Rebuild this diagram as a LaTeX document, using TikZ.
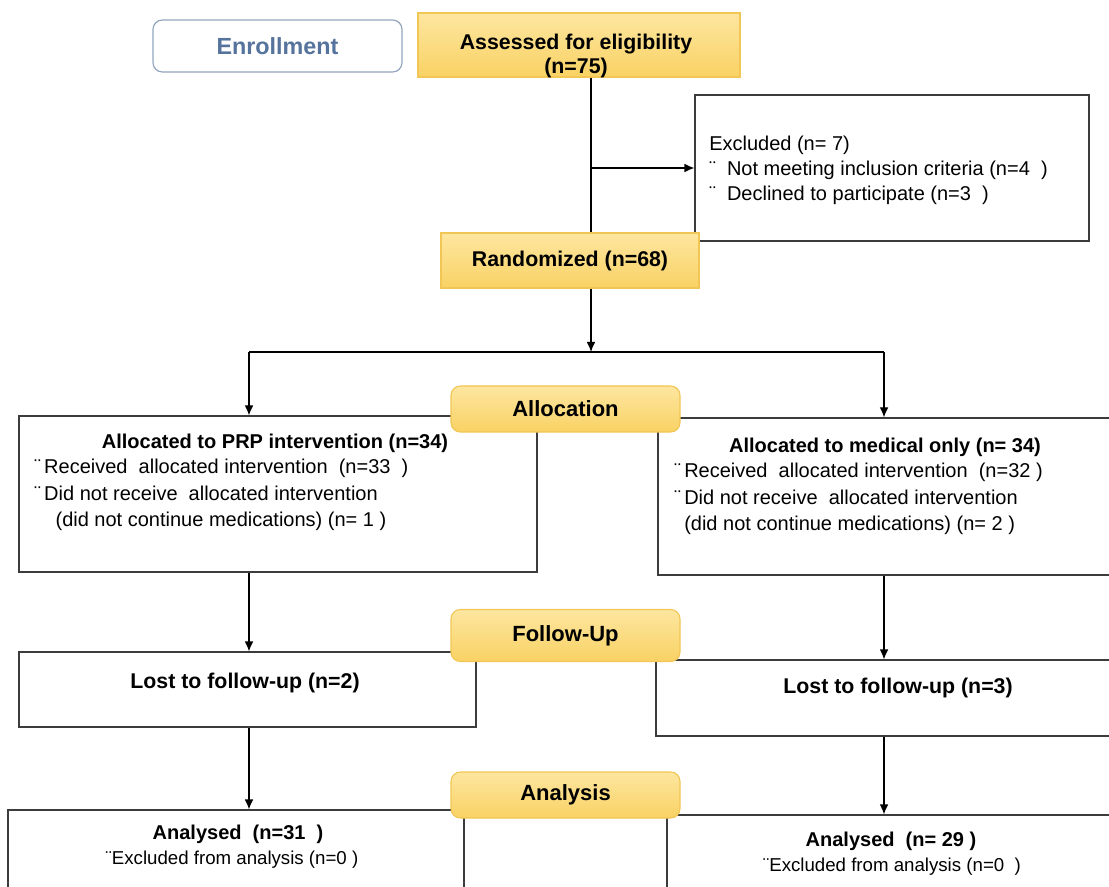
\documentclass[tikz,border=0pt]{standalone}
\usepackage{fontspec}
\setmainfont{Liberation Sans}
\usetikzlibrary{arrows.meta,calc}
\definecolor{BoxLine}{HTML}{3C3C3C}
\definecolor{LabelTop}{HTML}{FDE6A0}
\definecolor{LabelBottom}{HTML}{F9D264}
\definecolor{LabelLine}{HTML}{F1C654}
\definecolor{EnrollLine}{HTML}{93A6BE}
\definecolor{EnrollText}{HTML}{55739C}
\newcommand{\pxu}{0.75pt}
\tikzset{%
	% Style of the white boxes
	Box/.style={rectangle,draw=BoxLine,line width=0.9pt,fill=white,inner sep=0},
	% Style of the yellow boxes
	StepBox/.style={rectangle,draw=LabelLine,line width=0.8pt,top color=LabelTop,bottom color=LabelBottom,inner sep=0},
	% Style of the phase labels
	PhaseName/.style={StepBox,rounded corners=7pt,font=\fontsize{16.5}{20}\selectfont\bfseries},
	% Style of the enrollment label
	EnrollBox/.style={rectangle,rounded corners=7pt,draw=EnrollLine,line width=0.9pt,fill=white,text=EnrollText,font=\fontsize{17.5}{20}\selectfont\bfseries},
	% Style of the box titles
	TitleText/.style={font=\fontsize{15}{18}\selectfont\bfseries,inner sep=0},
	% Style of the box lines
	BodyText/.style={font=\fontsize{15}{20}\selectfont,align=left,inner sep=0},
	% Style of the connections
	Connection/.style={draw=black,line width=0.9pt},
	Arrow/.style={Connection,-{Latex[length=7.5pt,width=6.5pt]}},
}
\begin{document}
\begin{tikzpicture}[x=0.75pt,y=-0.75pt]
\useasboundingbox (0,0) rectangle (1109,887);
\clip (0,0) rectangle (1109,887);

%~~~~~~~~~~~~~~~~~~~~~~~~~~~~~~~~~~~~~~~~~~~~~~~~~~
% Set Boxes
%~~~~~~~~~~~~~~~~~~~~~~~~~~~~~~~~~~~~~~~~~~~~~~~~~~
\node[EnrollBox, minimum width=249*\pxu, minimum height=52*\pxu] (Enrollment) at (277.5, 46) {Enrollment};

\node[StepBox, minimum width=322*\pxu, minimum height=64*\pxu] (Assessed) at (579, 45) {};
\node[TitleText, font=\fontsize{16}{18}\selectfont\bfseries, align=center] (AssessedText) at ($ (Assessed) + (-3, 11) $) {Assessed for eligibility\\(n=75)};

\node[Box, minimum width=394*\pxu, minimum height=146*\pxu] (Excluded) at (892, 168) {};
\node[BodyText, font=\fontsize{15}{18.75}\selectfont, anchor=west] (ExcludedText) at (709, 170) {Excluded (n= 7)\\¨\ \ Not meeting inclusion criteria (n=4\ \ )\\¨\ \ Declined to participate (n=3\ \ )};

\node[StepBox, minimum width=258*\pxu, minimum height=55*\pxu, font=\fontsize{16}{18}\selectfont\bfseries] (Randomized) at (570, 260.5) {Randomized (n=68)};

\node[Box, minimum width=518*\pxu, minimum height=156*\pxu] (AllocPRP) at (278, 494) {};
\node[TitleText] (AllocPRPTitle) at (275, 443) {Allocated to PRP intervention (n=34)};
\node[BodyText, anchor=west] (AllocPRPText) at (34, 495) {¨\,Received\ \ allocated intervention\ \ (n=33\ \ )\\¨\,Did not receive\ \ allocated intervention\\\hspace*{16pt}(did not continue medications) (n= 1 )};

\node[Box, minimum width=457*\pxu, minimum height=157*\pxu] (AllocMed) at (886.5, 496.5) {};
\node[TitleText] (AllocMedTitle) at (885, 447) {Allocated to medical only (n= 34)};
\node[BodyText, anchor=west] (AllocMedText) at (674, 499) {¨\,Received\ \ allocated intervention\ \ (n=32 )\\¨\,Did not receive\ \ allocated intervention\\\hspace*{7.5pt}(did not continue medications) (n= 2 )};

\node[Box, minimum width=457*\pxu, minimum height=75*\pxu] (LostPRP) at (247.5, 689.5) {};
\node[TitleText, font=\fontsize{16}{18}\selectfont\bfseries] (LostPRPText) at (245, 683) {Lost to follow-up (n=2)};

\node[Box, minimum width=459*\pxu, minimum height=76*\pxu] (LostMed) at (885.5, 698) {};
\node[TitleText, font=\fontsize{16}{18}\selectfont\bfseries] (LostMedText) at (898, 688) {Lost to follow-up (n=3)};

\node[Box, minimum width=456*\pxu, minimum height=85*\pxu] (AnalysedPRP) at (236, 852.5) {};
\node[TitleText] (AnalysedPRPTitle) at (238, 834) {Analysed\ \ (n=31\ \ )};
\node[BodyText, font=\fontsize{14}{18}\selectfont] (AnalysedPRPText) at (232, 860) {¨Excluded from analysis (n=0 )};

\node[Box, minimum width=448*\pxu, minimum height=80*\pxu] (AnalysedMed) at (891, 855) {};
\node[TitleText] (AnalysedMedTitle) at (891, 841) {Analysed\ \ (n= 29 )};
\node[BodyText, font=\fontsize{14}{18}\selectfont] (AnalysedMedText) at (892, 867) {¨Excluded from analysis (n=0\ \ )};

%~~~~~~~~~~~~~~~~~~~~~~~~~~~~~~~~~~~~~~~~~~~~~~~~~~
% Set Branches
%~~~~~~~~~~~~~~~~~~~~~~~~~~~~~~~~~~~~~~~~~~~~~~~~~~
\coordinate (MainCol) at (591, 352);
\coordinate (LeftCol) at (249, 352);
\coordinate (RightCol) at (884, 352);

%Trunk from Assessed to Randomized
\draw[Connection] (Assessed.south -| MainCol) -- (Randomized.north -| MainCol);
\draw[Arrow] (MainCol |- Excluded.west) -- (Excluded.west);

%Split after Randomized
\draw[Arrow] (Randomized.south -| MainCol) -- (MainCol);
\draw[Connection] (LeftCol) -- (RightCol);
\draw[Arrow] (LeftCol) -- (LeftCol |- AllocPRP.north);
\draw[Arrow] (RightCol) -- (RightCol |- AllocMed.north);

%Left column
\draw[Arrow] (LeftCol |- AllocPRP.south) -- (LeftCol |- LostPRP.north);
\draw[Arrow] (LeftCol |- LostPRP.south) -- (LeftCol |- AnalysedPRP.north);

%Right column
\draw[Arrow] (RightCol |- AllocMed.south) -- (RightCol |- LostMed.north);
\draw[Arrow] (RightCol |- LostMed.south) -- (RightCol |- AnalysedMed.north);

%~~~~~~~~~~~~~~~~~~~~~~~~~~~~~~~~~~~~~~~~~~~~~~~~~~
% Set Phase Labels
%~~~~~~~~~~~~~~~~~~~~~~~~~~~~~~~~~~~~~~~~~~~~~~~~~~
\node[PhaseName, minimum width=229*\pxu, minimum height=46*\pxu] (Allocation) at (565.5, 409) {Allocation};
\node[PhaseName, minimum width=229*\pxu, minimum height=52*\pxu] (FollowUp) at (565.5, 635.5) {Follow-Up};
\node[PhaseName, minimum width=229*\pxu, minimum height=46*\pxu] (Analysis) at (565.5, 795) {Analysis};

\end{tikzpicture}
\end{document}
